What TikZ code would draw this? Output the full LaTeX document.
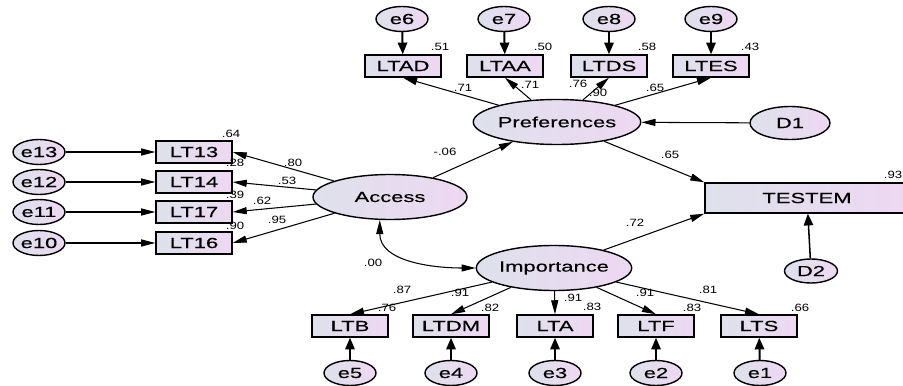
\documentclass[tikz,border=0pt]{standalone}
\usepackage{fontspec}
\setmainfont{Liberation Sans}
\newfontfamily\semfont[FakeStretch=1.5, FakeBold=0.35]{Liberation Sans}
\newfontfamily\estfont[FakeStretch=1.25]{Liberation Sans}
\usetikzlibrary{arrows.meta, shapes.geometric, positioning}

\definecolor{shadeleft}{RGB}{222,225,236}
\definecolor{shaderight}{RGB}{238,216,242}

\tikzset{
    latent/.style={draw, ellipse, line width=1.2pt, left color=shadeleft, right color=shaderight,
        minimum width=46.2mm, minimum height=13.5mm, inner sep=0pt, font=\semfont\fontsize{12.5}{14}\selectfont},
    errvar/.style={draw, ellipse, line width=1.2pt, left color=shadeleft, right color=shaderight,
        minimum width=15.6mm, minimum height=7.5mm, inner sep=0pt, font=\semfont\fontsize{12.5}{14}\selectfont},
    obsvar/.style={draw, rectangle, line width=1.2pt, left color=shadeleft, right color=shaderight,
        minimum width=22.8mm, minimum height=6.6mm, inner sep=0pt, font=\semfont\fontsize{12.5}{14}\selectfont},
    est/.style={inner sep=0pt, font=\estfont\fontsize{9}{10}\selectfont},
    path/.style={-{Triangle[length=12pt,width=6pt]}, line width=0.9pt},
    errpath/.style={-{Triangle[length=10pt,width=8pt]}, line width=1.7pt},
}

\begin{document}
\begin{tikzpicture}[x=0.3mm, y=0.3mm]
    \useasboundingbox (0,0) rectangle (903,385);

    % latent variables
    \node[latent] (pref) at (557,263) {Preferences};
    \node[latent] (access) at (390,188) {Access};
    \node[latent] (imp) at (554,117) {Importance};
    \node[obsvar, minimum width=61.2mm, minimum height=9mm] (testem) at (807,187) {TESTEM};
    \node[errvar, minimum width=24mm, minimum height=9.9mm] (d1) at (790,262) {D1};
    \node[errvar, minimum width=15.9mm, minimum height=7.2mm] (d2) at (811,114) {D2};

    % Preferences indicators
    \node[obsvar] (ltad) at (403,319) {LTAD};
    \node[obsvar] (ltaa) at (505,319) {LTAA};
    \node[obsvar] (ltds) at (609,319) {LTDS};
    \node[obsvar] (ltes) at (711,319) {LTES};
    \node[errvar] (e6) at (402,366) {e6};
    \node[errvar] (e7) at (504,366) {e7};
    \node[errvar] (e8) at (609,366) {e8};
    \node[errvar] (e9) at (711,366) {e9};

    % Access indicators
    \node[obsvar] (lt13) at (194,233) {LT13};
    \node[obsvar] (lt14) at (194,203) {LT14};
    \node[obsvar] (lt17) at (194,173) {LT17};
    \node[obsvar] (lt16) at (194,142) {LT16};
    \node[errvar] (e13) at (39,233) {e13};
    \node[errvar] (e12) at (39,203) {e12};
    \node[errvar] (e11) at (39,173) {e11};
    \node[errvar] (e10) at (39,142) {e10};

    % Importance indicators
    \node[obsvar] (ltb) at (350,59) {LTB};
    \node[obsvar] (ltdm) at (451,59) {LTDM};
    \node[obsvar] (lta) at (555,59) {LTA};
    \node[obsvar] (ltf) at (656,59) {LTF};
    \node[obsvar] (lts) at (759,59) {LTS};
    \node[errvar] (e5) at (350,12) {e5};
    \node[errvar] (e4) at (451,12) {e4};
    \node[errvar] (e3) at (555,12) {e3};
    \node[errvar] (e2) at (656,12) {e2};
    \node[errvar] (e1) at (760,12) {e1};

    % squared multiple correlations
    \node[est] (rltad) at (440,338) {.51};
    \node[est] (rltaa) at (543,338) {.50};
    \node[est] (rltds) at (647,338) {.58};
    \node[est] (rltes) at (750,338) {.43};
    \node[est] (rlt13) at (231,251) {.64};
    \node[est] (rlt14) at (235,222) {.28};
    \node[est] (rlt17) at (235,190) {.39};
    \node[est] (rlt16) at (235,159) {.90};
    \node[est] (rltb) at (387,77) {.76};
    \node[est] (rltdm) at (490,77) {.82};
    \node[est] (rlta) at (592,78) {.83};
    \node[est] (rltf) at (692,77) {.83};
    \node[est] (rlts) at (800,77) {.66};
    \node[est] (rtestem) at (893,210) {.93};

    % estimates
    \node[est] (wltad) at (463,297) {.71};
    \node[est] (wltaa) at (530,300) {.71};
    \node[est] (wltds) at (578,301) {.76};
    \node[est] (wltdsb) at (598,292) {.90};
    \node[est] (wltes) at (655,297) {.65};
    \node[est] (waccpref) at (445,233) {-.06};
    \node[est] (wpreftest) at (670,230) {.65};
    \node[est] (wimptest) at (635,162) {.72};
    \node[est] (wlt13) at (293,222) {.80};
    \node[est] (wlt14) at (287,204) {.53};
    \node[est] (wlt17) at (262,184) {.62};
    \node[est] (wlt16) at (277,165) {.95};
    \node[est] (wcov) at (373,122) {.00};
    \node[est] (wltb) at (402,95) {.87};
    \node[est] (wltdm) at (460,92) {.91};
    \node[est] (wlta) at (573,87) {.91};
    \node[est] (wltf) at (645,92) {.91};
    \node[est] (wlts) at (708,95) {.81};

    % structural paths
    \draw[path] (access) -- (pref);
    \draw[path] (pref) -- (testem.north west);
    \draw[path] (imp) -- (testem.south west);
    \draw[path] (d1) -- (pref);
    \draw[errpath, line width=1.3pt] (d2) -- (testem);
    \draw[{Triangle[length=12pt,width=6pt]}-{Triangle[length=12pt,width=6pt]}, line width=0.9pt]
        (access.246) to[out=-90, in=180] (imp.west);

    % loadings
    \draw[path] (pref) -- (ltad.south);
    \draw[path] (pref) -- (ltaa.south);
    \draw[path] (pref) -- (ltds.south);
    \draw[path] (pref) -- (ltes.south);
    \draw[path] (access) -- (lt13.east);
    \draw[path] (access) -- (lt14.east);
    \draw[path] (access) -- (lt17.east);
    \draw[path] (access) -- (lt16.east);
    \draw[path] (imp) -- (ltb.north);
    \draw[path] (imp) -- (ltdm.north);
    \draw[path] (imp) -- (lta.north);
    \draw[path] (imp) -- (ltf.north);
    \draw[path] (imp) -- (lts.north);

    % error terms
    \draw[errpath] (e6) -- (ltad);
    \draw[errpath] (e7) -- (ltaa);
    \draw[errpath] (e8) -- (ltds);
    \draw[errpath] (e9) -- (ltes);
    \draw[path] (e13) -- (lt13);
    \draw[path] (e12) -- (lt14);
    \draw[path] (e11) -- (lt17);
    \draw[path] (e10) -- (lt16);
    \draw[errpath] (e5) -- (ltb);
    \draw[errpath] (e4) -- (ltdm);
    \draw[errpath] (e3) -- (lta);
    \draw[errpath] (e2) -- (ltf);
    \draw[errpath] (e1) -- (lts);

\end{tikzpicture}
\end{document}
